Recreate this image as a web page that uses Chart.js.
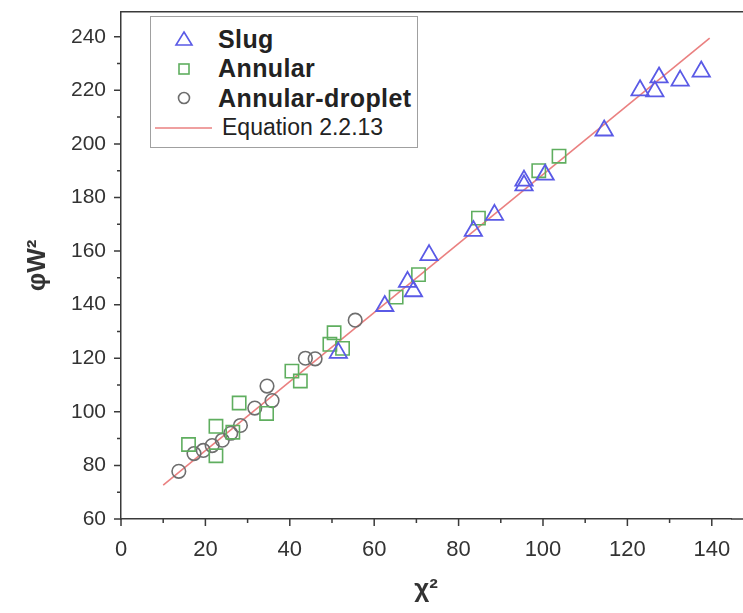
<!DOCTYPE html>
<html>
<head>
<meta charset="utf-8">
<script src="https://cdn.jsdelivr.net/npm/chart.js@4.4.1/dist/chart.umd.min.js"></script>
<style>
  html, body { margin: 0; padding: 0; background: #fff; }
  #wrap { position: relative; width: 743px; height: 613px; font-family: "Liberation Sans", Arial, sans-serif; }
  #legend { position: absolute; left: 150px; top: 16px; width: 266px; height: 130px; border: 1px solid #a0a0a0; background: #fff; }
  .row { position: absolute; left: 0; height: 30px; display: flex; align-items: center; white-space: nowrap; color: #222; }
  .row svg { position: absolute; }
  .row span { position: absolute; }
</style>
</head>
<body>
<div id="wrap">
  <canvas id="chart" width="743" height="613"></canvas>
  <div id="legend"></div>
</div>
<script>
// data
const slugX = [51.5, 62.5, 67.9, 69.3, 73, 83.5, 88.5, 95.5, 95.5, 100.5, 114.5, 123, 126.5, 127.5, 132.5, 137.5];
const slugY = [122, 139.5, 148.5, 145, 158.5, 167.5, 173.5, 184.5, 186.3, 188.5, 205, 220, 219.6, 224.8, 223.6, 227];

const annularX = [16, 22.5, 22.5, 26.5, 28, 34.5, 40.5, 42.5, 49.5, 50.5, 52.5, 65.2, 70.5, 84.7, 99, 103.8];
const annularY = [87.8, 83.6, 94.6, 92.4, 103.3, 99.4, 115.2, 111.5, 125.2, 129.5, 123.7, 142.8, 151.2, 172.3, 190, 195.4];

const dropletX = [13.7, 17.3, 19.5, 21.6, 24, 26, 28.3, 31.7, 34.6, 35.8, 43.7, 46, 55.5];
const dropletY = [77.8, 84.4, 85.6, 87.4, 89.4, 92, 94.9, 101.4, 109.6, 104.2, 120, 119.8, 134.2];

const eqX = [10, 139.5];
const eqY = [72.6, 239.5];

const xTicks = [0, 20, 40, 60, 80, 100, 120, 140];
const xMinor = [10, 30, 50, 70, 90, 110, 130];
const yTicks = [60, 80, 100, 120, 140, 160, 180, 200, 220, 240];
const yMinor = [70, 90, 110, 130, 150, 170, 190, 210, 230];

const pts = (xs, ys) => xs.map((x, i) => ({ x, y: ys[i] }));
const tickList = (major, minor) => major.concat(minor).sort((a, b) => a - b).map(v => ({ value: v }));

const BLUE = "#5a5ae6";
const GREEN = "#5fae5f";
const GREY = "#6e6e6e";
const RED = "#ea8080";
const AXIS = "#3a3a3a";

// box frame on top + major/minor tick marks
const frame = {
  id: "frame",
  afterDraw(chart) {
    const { ctx, chartArea: a, scales: { x, y } } = chart;
    ctx.save();
    ctx.strokeStyle = AXIS;
    ctx.lineWidth = 1.5;
    ctx.beginPath();
    ctx.moveTo(a.left, a.top);
    ctx.lineTo(743, a.top);
    ctx.moveTo(a.right, a.bottom);
    ctx.lineTo(743, a.bottom);
    x.ticks.forEach(t => {
      const px = x.getPixelForValue(t.value);
      const len = xTicks.includes(t.value) ? 7 : 4;
      ctx.moveTo(px, a.bottom);
      ctx.lineTo(px, a.bottom + len);
    });
    y.ticks.forEach(t => {
      const py = y.getPixelForValue(t.value);
      const len = yTicks.includes(t.value) ? 7 : 4;
      ctx.moveTo(a.left, py);
      ctx.lineTo(a.left - len, py);
    });
    ctx.stroke();
    ctx.restore();
  }
};

new Chart(document.getElementById("chart"), {
  type: "scatter",
  data: {
    datasets: [
      {
        label: "Slug",
        data: pts(slugX, slugY),
        pointStyle: "triangle",
        pointRadius: 10,
        pointBorderWidth: 1.8,
        pointBorderColor: BLUE,
        pointBackgroundColor: "rgba(0,0,0,0)"
      },
      {
        label: "Annular",
        data: pts(annularX, annularY),
        pointStyle: "rect",
        pointRadius: 9.4,
        pointBorderWidth: 1.6,
        pointBorderColor: GREEN,
        pointBackgroundColor: "rgba(0,0,0,0)"
      },
      {
        label: "Annular-droplet",
        data: pts(dropletX, dropletY),
        pointStyle: "circle",
        pointRadius: 6.8,
        pointBorderWidth: 1.6,
        pointBorderColor: GREY,
        pointBackgroundColor: "rgba(0,0,0,0)"
      },
      {
        type: "line",
        label: "Equation 2.2.13",
        data: pts(eqX, eqY),
        borderColor: RED,
        borderWidth: 1.6,
        pointRadius: 0,
        fill: false
      }
    ]
  },
  options: {
    responsive: false,
    animation: false,
    layout: { padding: { left: 0, top: 8, right: 0, bottom: 0 } },
    plugins: { legend: { display: false }, tooltip: { enabled: false } },
    scales: {
      x: {
        type: "linear",
        min: 0,
        max: 144.6,
        afterBuildTicks: s => { s.ticks = tickList(xTicks, xMinor); },
        afterFit: s => { s.height = 94; s.paddingLeft = 0; s.paddingRight = 0; },
        ticks: {
          autoSkip: false,
          maxRotation: 0,
          padding: 18,
          color: "#333",
          font: { family: "Liberation Sans", size: 22 },
          callback: v => xTicks.includes(v) ? v : ""
        },
        grid: { drawOnChartArea: false, drawTicks: false },
        border: { color: AXIS, width: 1.5 },
        title: {
          display: true,
          text: "χ²",
          color: "#333",
          font: { family: "Liberation Sans", size: 26, weight: "bold" },
          padding: { top: 0, bottom: 8 }
        }
      },
      y: {
        min: 60,
        max: 249.3,
        afterBuildTicks: s => { s.ticks = tickList(yTicks, yMinor); },
        afterFit: s => { s.width = 121; s.paddingTop = 0; s.paddingBottom = 0; },
        ticks: {
          autoSkip: false,
          padding: 15,
          color: "#333",
          font: { family: "Liberation Sans", size: 21 },
          callback: v => yTicks.includes(v) ? v : ""
        },
        grid: { drawOnChartArea: false, drawTicks: false },
        border: { color: AXIS, width: 1.5 },
        title: {
          display: true,
          text: "φW²",
          color: "#333",
          font: { family: "Liberation Sans", size: 26, weight: "bold" },
          padding: { top: 22, bottom: 0 }
        }
      }
    }
  },
  plugins: [frame]
});

// legend box drawn as html
const legendItems = [
  { text: "Slug", kind: "tri", color: BLUE, bold: true },
  { text: "Annular", kind: "sq", color: GREEN, bold: true },
  { text: "Annular-droplet", kind: "ci", color: GREY, bold: true },
  { text: "Equation 2.2.13", kind: "line", color: RED, bold: false }
];
const legend = document.getElementById("legend");
legendItems.forEach((it, i) => {
  const row = document.createElement("div");
  row.className = "row";
  row.style.top = (7 + i * 29.5) + "px";
  row.style.width = "266px";
  let svg;
  if (it.kind === "tri") svg = `<svg width="20" height="18" style="left:23px"><polygon points="10,2 18,15 2,15" fill="none" stroke="${it.color}" stroke-width="1.6"/></svg>`;
  if (it.kind === "sq") svg = `<svg width="16" height="16" style="left:25px"><rect x="3" y="3" width="10" height="10" fill="none" stroke="${it.color}" stroke-width="1.6"/></svg>`;
  if (it.kind === "ci") svg = `<svg width="16" height="16" style="left:25px"><circle cx="8" cy="8" r="5.5" fill="none" stroke="${it.color}" stroke-width="1.6"/></svg>`;
  if (it.kind === "line") svg = `<svg width="60" height="6" style="left:4px"><line x1="0" y1="3" x2="57" y2="3" stroke="${it.color}" stroke-width="1.6"/></svg>`;
  const left = it.bold ? 67 : 71;
  const font = it.bold ? "bold 25px 'Liberation Sans'" : "23px 'Liberation Sans'";
  const spacing = it.bold ? "0.4px" : "0";
  row.innerHTML = svg + `<span style="left:${left}px;font:${font};letter-spacing:${spacing}">${it.text}</span>`;
  legend.appendChild(row);
});
</script>
</body>
</html>
